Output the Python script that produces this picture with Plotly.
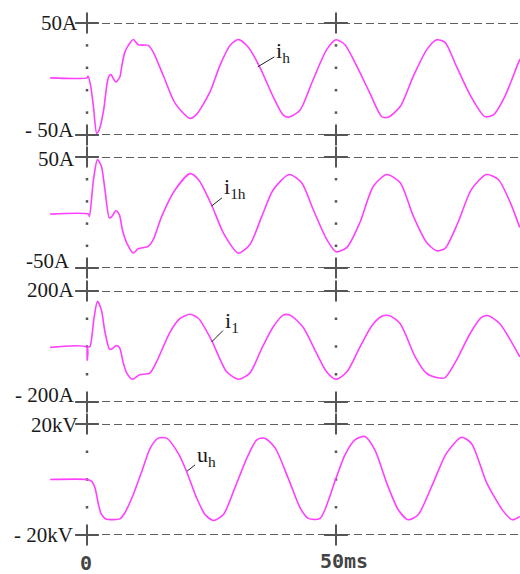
import plotly.graph_objects as go

# ---------------- data ----------------
t_ih = [-7.4, 0.0, 0.2, 0.7, 1.3, 1.95, 2.4, 3.3, 4.0, 4.4, 4.8, 5.8, 6.6, 7.0, 7.6, 8.3, 9.3, 10.3,
        12.3, 13.3, 15.3, 17.7, 20.7, 22.0, 24.7, 26.7, 28.7, 30.4, 32.4, 34.7, 37.4, 39.4, 40.6,
        42.8, 45.4, 48.1, 50.0, 51.8, 54.2, 56.8, 59.2, 60.5, 62.9, 65.5, 68.2, 70.2, 71.9, 74.2,
        76.9, 79.9, 81.6, 83.9, 86.6, 87.0]
ih = [1, 1, 2.5, -5, -25, -48.5, -46, -29, -5, 2.5, 3.9, -2.7, 1.8, 12, 24, 30, 35.3, 30.5,
      30, 24, 3.3, -21.8, -35.2, -31.6, -11.5, 12.2, 30, 35.3, 28.4, 10.7, -16, -32.2, -34,
      -27.6, -0.7, 26, 35, 30.6, 11.2, -12.6, -33.6, -34, -24.6, 2.2, 26, 35, 32.7, 11.2,
      -14, -33.6, -32, -15.7, 14.2, 18]

t_i1h = [-7.4, 0.3, 0.5, 1.3, 2.1, 2.9, 3.6, 4.5, 5.0, 5.8, 6.5, 7.1, 8.0, 9.3, 10.3, 12.3, 13.3,
         15.0, 17.7, 20.7, 22.4, 25.0, 27.4, 30.4, 32.7, 35.1, 37.4, 40.6, 43.1, 45.4, 48.1, 50.0,
         52.2, 54.8, 57.5, 60.2, 62.9, 65.5, 68.2, 70.2, 71.9, 74.5, 77.2, 80.2, 82.6, 85.0, 86.9]
i1h = [-1.5, -1.5, -3.5, 29.5, 47.6, 41.5, 20.5, -5, -3.5, 1.6, -2, -15.5, -27.5, -36.5, -32.6, -30.5, -24.5,
       -3.5, 20.5, 35, 29.5, 7, -18.5, -36.5, -29, -3.5, 20.5, 34.2, 26.8, 2.9, -24, -35.4,
       -31.4, -9, 23.7, 34.2, 26.8, -3.1, -27, -34.5, -32.3, -9, 20.8, 34.2, 29.7, 8.9, -13.5]

t_i1 = [-7.4, 0.0, 0.05, 0.1, 0.6, 1.4, 2.1, 2.9, 3.6, 4.5, 5.0, 5.8, 6.5, 7.3, 8.0, 9.1, 10.6, 12.6,
        14.0, 16.7, 18.7, 20.7, 22.4, 25.0, 28.0, 30.4, 32.7, 35.1, 37.4, 39.4, 40.8, 43.4, 46.1,
        48.1, 50.0, 52.2, 54.8, 57.2, 59.2, 60.8, 62.9, 65.9, 68.2, 70.2, 71.9, 74.2, 76.9, 79.2,
        80.6, 82.9, 86.9]
i1 = [-3, -3, -49, -3, 0, 101, 163, 131, 53, -9, -9, 3, -3, -60, -96, -118, -102, -96,
      -54, 53, 101, 116, 101, 23, -90, -118, -96, -7, 71, 113, 113, 69, -25,
      -91, -118, -91, -2, 75, 109, 111, 82, -37, -97, -112, -112, -49, 46, 105,
      111, 82, -37]

t_uh = [-7.4, 0.0, 0.9, 1.6, 2.3, 2.9, 3.8, 6.6, 7.6, 9.3, 11.0, 12.7, 14.3, 16.0, 18.3, 20.0, 22.0,
        23.7, 25.4, 27.4, 29.7, 32.1, 34.1, 35.7, 37.8, 40.4, 42.8, 44.4, 46.8, 50.0, 51.8, 53.8,
        55.8, 57.8, 60.2, 62.5, 64.5, 66.5, 69.5, 72.2, 75.2, 77.2, 80.3, 83.6, 85.4, 86.9]
uh = [0, 0, -0.6, -3, -9, -12.6, -14.2, -14.2, -12, -5.4, 2.9, 11.3, 14.9, 14.9, 9.5, 2.9, -6.6,
      -12.6, -14.8, -12.6, -3, 7.7, 14.3, 14.9, 11.3, 0.5, -10.2, -14, -14, 0.5, 8.9, 14.3,
      15.5, 10.7, -1.3, -10.9, -14.5, -12.7, -1.3, 9.5, 15.2, 13, -1.3, -11.4, -14.5, -13.3]

limits = [50, 50, 200, 20]
top_labels = ["50A", "50A", "200A", "20kV"]
bottom_labels = ["- 50A", "-50A", "- 200A", "- 20kV"]
curve_names = ["i<sub>h</sub>", "i<sub>1h</sub>", "i<sub>1</sub>", "u<sub>h</sub>"]
label_points_t = [34.3, 25.0, 25.0, 20.1]
label_points_v = [10.9, 5.8, 16, 3.0]
dot_levels = [[-30, -10, 10, 30], [-30, -10, 10, 30], [-100, 0, 100], [-10, 0, 10]]
x_ticks = [0, 50]
x_tick_labels = ["0", "50ms"]

for a, b in [(t_ih, ih), (t_i1h, i1h), (t_i1, i1), (t_uh, uh)]:
    assert len(a) == len(b)

series = [(t_ih, ih), (t_i1h, i1h), (t_i1, i1), (t_uh, uh)]

# ---------------- styling ----------------
H = 574.0
panel_px = [(23, 135), (157, 268), (291, 402), (424, 535)]
domains = [[1 - b / H, 1 - t / H] for t, b in panel_px]
CURVE = "#ff40ff"
GRID = "#5f5f5f"
PLUS = "#555555"
TXT = "#1a1a1a"
SERIF = "Liberation Serif, Times New Roman, serif"

fig = go.Figure()
shapes = []
annotations = []

for k, ((tt, vv), lim) in enumerate(zip(series, limits)):
    yname = "y" if k == 0 else f"y{k+1}"
    # dotted vertical reference marks
    dx, dy = [], []
    for xt in x_ticks:
        for lv in dot_levels[k]:
            dx.append(xt)
            dy.append(lv)
    fig.add_trace(go.Scatter(x=dx, y=dy, mode="markers", xaxis="x", yaxis=yname,
                             marker=dict(size=2.5, color="#555555", symbol="square", line=dict(width=0)),
                             hoverinfo="skip", cliponaxis=False))
    # "+" marks where the dashed limit lines meet the time marks
    px_, py_ = [], []
    for lv in (lim, -lim):
        for xt in x_ticks:
            px_.append(xt)
            py_.append(lv)
    fig.add_trace(go.Scatter(x=px_, y=py_, mode="markers", xaxis="x", yaxis=yname,
                             marker=dict(size=17, symbol="line-ew", line=dict(width=2, color=PLUS)),
                             hoverinfo="skip", cliponaxis=False))
    fig.add_trace(go.Scatter(x=px_, y=py_, mode="markers", xaxis="x", yaxis=yname,
                             marker=dict(size=15, symbol="line-ns", line=dict(width=2, color=PLUS)),
                             hoverinfo="skip", cliponaxis=False))
    fig.add_trace(go.Scatter(x=tt, y=vv, mode="lines", xaxis="x", yaxis=yname,
                             line=dict(color=CURVE, width=1.6, shape="spline", smoothing=0.7),
                             hoverinfo="skip"))
    for lv in (lim, -lim):
        shapes.append(dict(type="line", xref="x", yref=yname, x0=-1.8, x1=90, y0=lv, y1=lv,
                           line=dict(color=GRID, width=2, dash="8px,4px"), layer="below"))

# axis value labels
top_shift = [(2, 0), (-1, -2), (-1, 1.5), (2, -1)]
bot_shift = [(-2, 5.5), (-6, 7), (-1, 7.5), (-3, 0)]
for k, lim in enumerate(limits):
    yname = "y" if k == 0 else f"y{k+1}"
    for text, val, (sx, sy) in [(top_labels[k], lim, top_shift[k]), (bottom_labels[k], -lim, bot_shift[k])]:
        annotations.append(dict(text=text, x=-1.8, y=val, xref="x", yref=yname,
                                xanchor="right", yanchor="middle", xshift=sx, yshift=sy,
                                showarrow=False, font=dict(family=SERIF, size=21, color=TXT)))
    annotations.append(dict(text=curve_names[k], x=label_points_t[k], y=label_points_v[k],
                            xref="x", yref=yname, showarrow=True, arrowhead=0, arrowwidth=1,
                            arrowcolor="#222222", standoff=0,
                            ax=[25, 23, 20, 19][k], ay=[-15, -18, -20, -15][k],
                            font=dict(family=SERIF, size=22, color=TXT)))

for xt, lab, ys in zip(x_ticks, x_tick_labels, [562.5, 561]):
    annotations.append(dict(text=lab, x=xt, y=1 - ys / H, xref="x", yref="paper",
                            xanchor="center" if xt == 0 else "left",
                            xshift=-1 if xt == 0 else -18,
                            yanchor="middle", showarrow=False,
                            font=dict(family="DejaVu Sans Mono, monospace", size=20,
                                      color="#444444", weight="bold")))

layout = dict(
    width=520, height=574, margin=dict(l=0, r=0, t=0, b=0),
    paper_bgcolor="white", plot_bgcolor="white", showlegend=False,
    xaxis=dict(range=[-17.47, 86.95], domain=[0, 1], anchor="y4", visible=False, fixedrange=True),
    shapes=shapes, annotations=annotations,
)
for k, lim in enumerate(limits):
    key = "yaxis" if k == 0 else f"yaxis{k+1}"
    layout[key] = dict(range=[-lim, lim], domain=domains[k], anchor="x", visible=False, fixedrange=True)

fig.update_layout(**layout)
fig.write_html("out.html", config={"displayModeBar": False},
               post_script="document.body.style.margin='0';")
